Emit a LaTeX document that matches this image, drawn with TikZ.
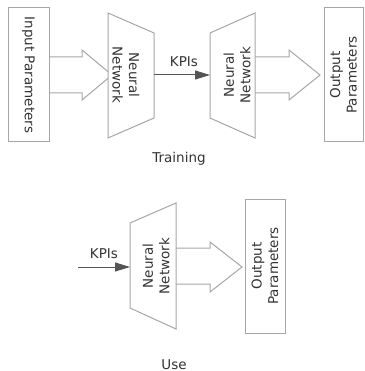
\documentclass[tikz,border=0pt]{standalone}
\usepackage{fontspec}
\setmainfont{DejaVu Sans}
\usetikzlibrary{arrows.meta}
\definecolor{edgegray}{HTML}{A6A6A6}
\definecolor{txtgray}{HTML}{333333}
\definecolor{arrgray}{HTML}{555555}
\begin{document}
\begin{tikzpicture}[x=1pt,y=-1pt,
  lbl/.style={text=txtgray,font=\fontsize{13.5}{16.5}\selectfont,align=center,inner sep=0pt},
  boxnode/.style={draw=edgegray,line width=1pt,minimum width=#1,inner sep=0pt},
  shapeline/.style={draw=edgegray,line width=1pt,line join=miter},
  kpiarrow/.style={draw=arrgray,line width=1pt,-{Triangle[length=15pt,width=9pt]}}]
\useasboundingbox (0,0) rectangle (364,371);
% ---------- Training ----------
\node[boxnode=41pt,minimum height=134pt] (inbox) at (28.5,75) {};
\node[lbl,rotate=-90] (intext) at (inbox.center) {Input Parameters};
% block arrow 1
\coordinate (ba1a) at (49,57); \coordinate (ba1b) at (82,57); \coordinate (ba1c) at (82,50);
\coordinate (ba1t) at (112,75); \coordinate (ba1d) at (82,100); \coordinate (ba1e) at (82,93);
\coordinate (ba1f) at (49,93);
\draw[shapeline] (ba1a) -- (ba1b) -- (ba1c) -- (ba1t) -- (ba1d) -- (ba1e) -- (ba1f);
% NN1
\coordinate (n1a) at (108,13); \coordinate (n1b) at (154,33);
\coordinate (n1c) at (154,118); \coordinate (n1d) at (108,138);
\draw[shapeline,fill=white] (n1a) -- (n1b) -- (n1c) -- (n1d) -- cycle;
\coordinate (n1e) at (154,75);
\node[lbl,rotate=-90] (n1text) at (126,75) {Neural\\Network};
% NN2
\coordinate (n2a) at (210,33); \coordinate (n2b) at (255,13);
\coordinate (n2c) at (255,138); \coordinate (n2d) at (210,118);
\draw[shapeline] (n2a) -- (n2b) -- (n2c) -- (n2d) -- cycle;
\coordinate (n2w) at (210,75);
\node[lbl,rotate=90] (n2text) at (237,75) {Neural\\Network};
% KPIs arrow 1
\draw[kpiarrow] (n1e) -- (n2w);
\node[lbl,anchor=base] (kpi1) at (184,67) {KPIs};
% block arrow 2
\coordinate (ba2a) at (255,57); \coordinate (ba2b) at (289,57); \coordinate (ba2c) at (289,50);
\coordinate (ba2t) at (320,75); \coordinate (ba2d) at (289,100); \coordinate (ba2e) at (289,93);
\coordinate (ba2f) at (255,93);
\draw[shapeline] (ba2a) -- (ba2b) -- (ba2c) -- (ba2t) -- (ba2d) -- (ba2e) -- (ba2f);
% output 1
\node[boxnode=39pt,minimum height=134pt] (outbox1) at (343.5,75) {};
\node[lbl,rotate=90] (out1text) at (outbox1.center) {Output\\Parameters};
\node[lbl,anchor=base] (train) at (179,163) {Training};
% ---------- Use ----------
\coordinate (n3a) at (130,223); \coordinate (n3b) at (176,203);
\coordinate (n3c) at (176,329); \coordinate (n3d) at (130,308);
\draw[shapeline] (n3a) -- (n3b) -- (n3c) -- (n3d) -- cycle;
\coordinate (n3w) at (130,267);
\node[lbl,rotate=90] (n3text) at (156,266) {Neural\\Network};
\coordinate (kin) at (78,267);
\draw[kpiarrow] (kin) -- (n3w);
\node[lbl,anchor=base] (kpi2) at (104,258) {KPIs};
% block arrow 3
\coordinate (ba3a) at (176,248); \coordinate (ba3b) at (210,248); \coordinate (ba3c) at (210,242);
\coordinate (ba3t) at (242,267); \coordinate (ba3d) at (210,292); \coordinate (ba3e) at (210,284);
\coordinate (ba3f) at (176,284);
\draw[shapeline] (ba3a) -- (ba3b) -- (ba3c) -- (ba3t) -- (ba3d) -- (ba3e) -- (ba3f);
\node[boxnode=40pt,minimum height=134pt] (outbox2) at (265,266) {};
\node[lbl,rotate=90] (out2text) at (outbox2.center) {Output\\Parameters};
\node[lbl,anchor=base] (use) at (174,369) {Use};
\end{tikzpicture}
\end{document}
